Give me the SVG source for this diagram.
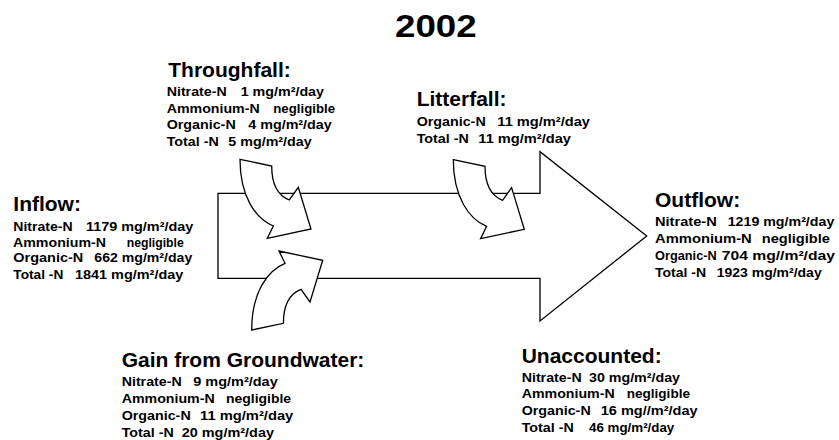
<svg xmlns="http://www.w3.org/2000/svg" width="839" height="440" viewBox="0 0 839 440">
<style>
text{font-family:"Liberation Sans",Arial,Helvetica,sans-serif;font-weight:bold;fill:#000}
.t{font-size:31px}
.h{font-size:21px}
.b{font-size:13px}
.ar{fill:#fff;stroke:#000;stroke-width:1.3;stroke-linejoin:miter}
</style>
<defs>
<path id="curv" d="M240,159.3 L271.7,166 C271.7,185 279,196 289.3,200 L298.3,187.3 L311,229 L267.3,238.3 L273.3,226 C256,219 240,197 240,159.3 Z"/>
</defs>
<g id="title"><text class="t" x="395" y="37.3" textLength="81.7" lengthAdjust="spacingAndGlyphs">2002</text></g>
<g id="connectors">
<path id="main-arrow" class="ar" d="M218,193.3 H540 V151.7 L646.7,236 L540,321 V278.3 H218 Z"/>
<use id="throughfall-arrow" class="ar" href="#curv"/>
<use id="litterfall-arrow" class="ar" href="#curv" transform="translate(213.3,0.3)"/>
<use id="groundwater-arrow" class="ar" href="#curv" transform="translate(11.7,489.3) scale(1,-1)"/>
</g>
<g id="throughfall">
<text class="h" x="168.3" y="76.7">Throughfall:</text>
<text class="b" x="166.7" y="96" textLength="60" lengthAdjust="spacingAndGlyphs">Nitrate-N</text>
<text class="b" x="240.7" y="96" textLength="83.3" lengthAdjust="spacingAndGlyphs">1 mg/m²/day</text>
<text class="b" x="166.7" y="112.7" textLength="93" lengthAdjust="spacingAndGlyphs">Ammonium-N</text>
<text class="b" x="273.3" y="112.7" textLength="61.7" lengthAdjust="spacingAndGlyphs">negligible</text>
<text class="b" x="166.7" y="129.4" textLength="69" lengthAdjust="spacingAndGlyphs">Organic-N</text>
<text class="b" x="248.3" y="129.4" textLength="83.4" lengthAdjust="spacingAndGlyphs">4 mg/m²/day</text>
<text class="b" x="166.7" y="146" textLength="52" lengthAdjust="spacingAndGlyphs">Total -N</text>
<text class="b" x="228.3" y="146" textLength="83.4" lengthAdjust="spacingAndGlyphs">5 mg/m²/day</text>
</g>
<g id="litterfall">
<text class="h" x="416.7" y="106">Litterfall:</text>
<text class="b" x="416.7" y="125.7" textLength="69" lengthAdjust="spacingAndGlyphs">Organic-N</text>
<text class="b" x="497.3" y="125.7" textLength="92.7" lengthAdjust="spacingAndGlyphs">11 mg/m²/day</text>
<text class="b" x="416.7" y="142.5" textLength="52" lengthAdjust="spacingAndGlyphs">Total -N</text>
<text class="b" x="478.3" y="142.5" textLength="92.7" lengthAdjust="spacingAndGlyphs">11 mg/m²/day</text>
</g>
<g id="inflow">
<text class="h" x="13.3" y="211">Inflow:</text>
<text class="b" x="13.3" y="231" textLength="59.3" lengthAdjust="spacingAndGlyphs">Nitrate-N</text>
<text class="b" x="86" y="231" textLength="107.3" lengthAdjust="spacingAndGlyphs">1179 mg/m²/day</text>
<text class="b" x="13" y="246.7" textLength="93" lengthAdjust="spacingAndGlyphs">Ammonium-N</text>
<text class="b" x="126.7" y="246.7" textLength="57" lengthAdjust="spacingAndGlyphs">negligible</text>
<text class="b" x="13.3" y="262" textLength="70" lengthAdjust="spacingAndGlyphs">Organic-N</text>
<text class="b" x="94.3" y="262" textLength="98" lengthAdjust="spacingAndGlyphs">662 mg/m²/day</text>
<text class="b" x="13.3" y="278.5" textLength="50" lengthAdjust="spacingAndGlyphs">Total -N</text>
<text class="b" x="75" y="278.5" textLength="108.3" lengthAdjust="spacingAndGlyphs">1841 mg/m²/day</text>
</g>
<g id="outflow">
<text class="h" x="655" y="206.7">Outflow:</text>
<text class="b" x="655" y="226" textLength="61.7" lengthAdjust="spacingAndGlyphs">Nitrate-N</text>
<text class="b" x="727.7" y="226" textLength="106.6" lengthAdjust="spacingAndGlyphs">1219 mg/m²/day</text>
<text class="b" x="655" y="242.7" textLength="96.7" lengthAdjust="spacingAndGlyphs">Ammonium-N</text>
<text class="b" x="761.7" y="242.7" textLength="68.3" lengthAdjust="spacingAndGlyphs">negligible</text>
<text class="b" x="655" y="259.5" textLength="61.7" lengthAdjust="spacingAndGlyphs">Organic-N</text>
<text class="b" x="721.7" y="259.5" textLength="113.3" lengthAdjust="spacingAndGlyphs">704 mg//m²/day</text>
<text class="b" x="655" y="276.5" textLength="51" lengthAdjust="spacingAndGlyphs">Total -N</text>
<text class="b" x="716.7" y="276.5" textLength="105" lengthAdjust="spacingAndGlyphs">1923 mg/m²/day</text>
</g>
<g id="groundwater">
<text class="h" x="121.7" y="366.7">Gain from Groundwater:</text>
<text class="b" x="121.7" y="385.7" textLength="60" lengthAdjust="spacingAndGlyphs">Nitrate-N</text>
<text class="b" x="193.3" y="385.7" textLength="84.4" lengthAdjust="spacingAndGlyphs">9 mg/m²/day</text>
<text class="b" x="121.7" y="402.5" textLength="93" lengthAdjust="spacingAndGlyphs">Ammonium-N</text>
<text class="b" x="226" y="402.5" textLength="65" lengthAdjust="spacingAndGlyphs">negligible</text>
<text class="b" x="121.7" y="419.5" textLength="69" lengthAdjust="spacingAndGlyphs">Organic-N</text>
<text class="b" x="200" y="419.5" textLength="93.3" lengthAdjust="spacingAndGlyphs">11 mg/m²/day</text>
<text class="b" x="121.7" y="436.5" textLength="52" lengthAdjust="spacingAndGlyphs">Total -N</text>
<text class="b" x="181.7" y="436.5" textLength="92.3" lengthAdjust="spacingAndGlyphs">20 mg/m²/day</text>
</g>
<g id="unaccounted">
<text class="h" x="521.7" y="362.7">Unaccounted:</text>
<text class="b" x="521.7" y="381.7" textLength="60" lengthAdjust="spacingAndGlyphs">Nitrate-N</text>
<text class="b" x="589" y="381.7" textLength="91" lengthAdjust="spacingAndGlyphs">30 mg/m²/day</text>
<text class="b" x="521.7" y="398.3" textLength="93" lengthAdjust="spacingAndGlyphs">Ammonium-N</text>
<text class="b" x="626.7" y="398.3" textLength="63.3" lengthAdjust="spacingAndGlyphs">negligible</text>
<text class="b" x="521.7" y="415" textLength="69" lengthAdjust="spacingAndGlyphs">Organic-N</text>
<text class="b" x="600.7" y="415" textLength="97" lengthAdjust="spacingAndGlyphs">16 mg//m²/day</text>
<text class="b" x="521.7" y="431.7" textLength="52" lengthAdjust="spacingAndGlyphs">Total -N</text>
<text class="b" x="589" y="431.7" textLength="85.3" lengthAdjust="spacingAndGlyphs">46 mg/m²/day</text>
</g>
</svg>
